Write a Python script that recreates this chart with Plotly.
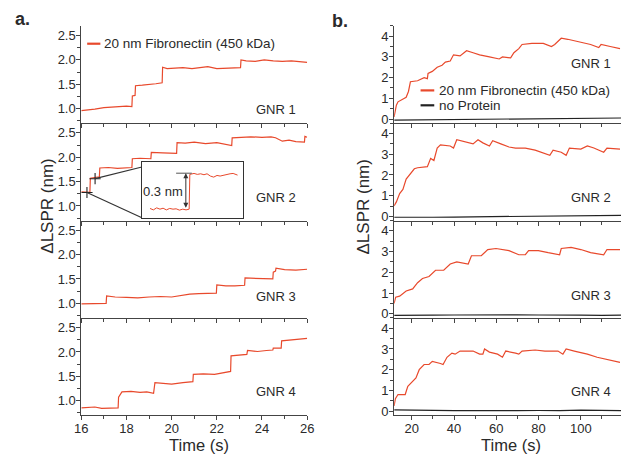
import plotly.graph_objects as go

# ---------------- data: panel a (Time s, dLSPR nm) ----------------
a_t1 = [16.0, 16.3, 16.6, 17.0, 17.3, 17.6, 18.0, 18.24, 18.26, 18.38, 18.40, 18.7, 19.0, 19.3, 19.58, 19.60,
        19.8, 20.1, 20.5, 20.9, 21.3, 21.6, 22.0, 22.4, 22.8, 23.05, 23.07, 23.3, 23.7, 24.1, 24.5, 24.9, 25.3, 25.7, 26.0]
a_v1 = [0.96, 0.97, 0.99, 1.02, 1.03, 1.04, 1.05, 1.04, 1.26, 1.27, 1.47, 1.48, 1.49, 1.51, 1.53, 1.85,
        1.82, 1.83, 1.84, 1.82, 1.84, 1.86, 1.82, 1.83, 1.84, 1.84, 2.00, 1.98, 1.97, 2.00, 1.98, 1.97, 1.98, 1.96, 1.95]

a_t2 = [16.0, 16.2, 16.38, 16.40, 16.6, 16.8, 16.82, 17.2, 17.6, 18.0, 18.24, 18.26, 18.6, 19.08, 19.10, 19.6,
        20.22, 20.24, 20.6, 21.0, 21.5, 22.0, 22.4, 22.66, 22.68, 23.0, 23.5, 24.0, 24.4, 24.6, 24.9, 25.2, 25.5,
        25.88, 25.9, 26.0]
a_v2 = [1.29, 1.29, 1.28, 1.57, 1.58, 1.60, 1.78, 1.79, 1.77, 1.78, 1.79, 1.97, 1.98, 1.97, 2.10, 2.09,
        2.08, 2.30, 2.29, 2.31, 2.28, 2.30, 2.27, 2.24, 2.40, 2.41, 2.42, 2.41, 2.42, 2.40, 2.33, 2.35, 2.32,
        2.31, 2.43, 2.41]

a_t3 = [16.0, 16.5, 17.1, 17.12, 17.5, 18.0, 18.5, 19.0, 19.5, 20.0, 20.5, 20.8, 21.2, 21.6, 21.98, 22.0,
        22.4, 22.8, 23.23, 23.25, 23.7, 24.1, 24.48, 24.5, 24.6, 24.62, 25.0, 25.5, 26.0]
a_v3 = [0.99, 1.00, 1.00, 1.15, 1.13, 1.12, 1.11, 1.13, 1.14, 1.13, 1.17, 1.19, 1.20, 1.20, 1.21, 1.38,
        1.36, 1.36, 1.37, 1.52, 1.51, 1.51, 1.50, 1.64, 1.66, 1.72, 1.69, 1.68, 1.70]

a_t4 = [16.0, 16.3, 16.6, 16.9, 17.3, 17.63, 17.65, 17.8, 18.2, 18.6, 18.9, 19.2, 19.26, 19.6, 20.0, 20.5,
        20.94, 20.96, 21.4, 21.9, 22.4, 22.61, 22.63, 23.0, 23.33, 23.36, 23.8, 24.2, 24.48, 24.5, 24.85, 24.87,
        25.3, 25.7, 26.0]
a_v4 = [0.85, 0.86, 0.87, 0.84, 0.84, 0.85, 1.07, 1.18, 1.19, 1.17, 1.18, 1.15, 1.37, 1.35, 1.34, 1.37,
        1.39, 1.54, 1.55, 1.54, 1.58, 1.60, 1.92, 1.93, 1.95, 2.03, 2.01, 2.03, 2.04, 2.08, 2.08, 2.23,
        2.25, 2.27, 2.28]

# inset (zoom of the first step in GNR 2)
inset_t = [16.238, 16.253, 16.268, 16.283, 16.297, 16.312, 16.327, 16.342, 16.356, 16.371, 16.386, 16.401, 16.415,
           16.418, 16.437, 16.452, 16.467, 16.482, 16.496, 16.511, 16.526, 16.541, 16.555, 16.570, 16.585,
           16.600, 16.614, 16.634]
inset_v = [1.276, 1.264, 1.281, 1.270, 1.278, 1.264, 1.276, 1.270, 1.273, 1.262, 1.270, 1.264, 1.270,
           1.562, 1.570, 1.562, 1.567, 1.559, 1.567, 1.548, 1.539, 1.553, 1.548, 1.556, 1.559,
           1.567, 1.570, 1.556]
zoom_marks_t = [16.25, 16.61]
zoom_marks_v = [1.276, 1.56]

# ---------------- data: panel b ----------------
b_t1 = [11.66, 12.74, 13.51, 15.83, 17.37, 18.46, 19.38, 22.78, 25.87, 27.41, 27.72, 29.73, 32.05, 34.36, 35.91,
        38.22, 39.77, 42.86, 45.95, 49.03, 52.12, 56.76, 61.39, 62.93, 66.8, 68.34, 70.66, 72.2, 76.83, 82.24,
        86.1, 87.64, 90.73, 93.82, 100.0, 104.63, 108.49, 109.58, 113.9, 118.53]
b_v1 = [0.10, 0.67, 0.83, 0.95, 1.05, 1.33, 1.80, 1.85, 2.00, 1.95, 2.20, 2.30, 2.50, 2.60, 2.75,
        2.80, 3.10, 3.05, 3.30, 3.20, 3.10, 3.00, 2.90, 3.00, 2.95, 3.20, 3.40, 3.60, 3.65, 3.65,
        3.50, 3.60, 3.90, 3.85, 3.70, 3.60, 3.45, 3.60, 3.50, 3.40]

b_t2 = [11.66, 12.74, 14.29, 15.83, 17.37, 18.92, 21.24, 22.78, 25.87, 27.41, 28.96, 30.5, 32.05, 33.59, 38.22,
        39.77, 41.31, 45.95, 49.03, 51.35, 53.67, 56.76, 58.3, 62.16, 66.02, 69.11, 73.75, 78.38, 83.78, 85.33,
        86.87, 90.73, 93.05, 94.59, 100.0, 103.09, 106.18, 110.81, 112.36, 118.53]
b_v2 = [0.51, 0.70, 1.10, 1.30, 1.80, 2.00, 2.30, 2.35, 2.40, 2.40, 2.80, 2.70, 3.30, 3.45, 3.40,
        3.30, 3.70, 3.60, 3.50, 3.70, 3.55, 3.40, 3.65, 3.50, 3.35, 3.30, 3.30, 3.20, 3.00, 2.95,
        3.20, 3.10, 2.95, 3.30, 3.25, 3.40, 3.30, 3.10, 3.30, 3.25]

b_t3 = [11.66, 12.43, 14.29, 17.37, 20.46, 22.78, 25.1, 28.19, 31.27, 35.14, 38.22, 41.31, 46.72, 48.26, 52.9,
        55.98, 59.85, 66.02, 70.66, 73.75, 75.29, 79.92, 84.56, 89.96, 90.73, 95.37, 100.0, 104.63, 110.81,
        112.36, 118.53]
b_v3 = [0.50, 0.80, 0.85, 1.10, 1.20, 1.50, 1.70, 1.80, 2.10, 2.10, 2.40, 2.50, 2.40, 2.80, 2.80,
        3.10, 3.15, 3.05, 2.85, 2.85, 3.05, 3.05, 2.95, 2.85, 3.15, 3.20, 3.10, 2.95, 2.85,
        3.10, 3.10]

b_t4 = [11.66, 12.28, 13.51, 16.91, 18.15, 20.46, 22.01, 23.55, 25.87, 28.19, 29.73, 33.59, 34.83, 36.68, 39.0,
        40.54, 42.86, 49.03, 52.12, 53.67, 54.44, 56.76, 60.62, 62.93, 64.48, 69.11, 70.66, 72.2, 78.38, 83.01,
        89.19, 91.51, 93.05, 96.91, 103.09, 107.72, 112.36, 118.53]
b_v4 = [0.25, 0.60, 0.80, 0.80, 1.20, 1.45, 1.60, 2.00, 2.25, 2.25, 2.40, 2.30, 2.25, 2.60, 2.80,
        2.75, 2.90, 2.90, 2.75, 2.75, 3.00, 2.85, 2.75, 2.60, 2.90, 2.80, 2.75, 2.90, 2.95, 2.90,
        2.90, 2.75, 3.00, 2.90, 2.75, 2.60, 2.50, 2.35]

b_t_ctrl = [11.7, 20, 30, 40, 50, 60, 70, 80, 90, 100, 110, 119]
b_c1 = [-0.05, -0.04, -0.03, -0.02, -0.02, -0.01, 0.00, 0.01, 0.02, 0.03, 0.04, 0.05]
b_c2 = [-0.04, -0.05, -0.04, -0.03, -0.02, -0.02, -0.01, -0.01, 0.00, 0.02, 0.04, 0.05]
b_c3 = [-0.08, -0.06, -0.07, -0.06, -0.05, -0.06, -0.05, -0.06, -0.05, -0.07, -0.08, -0.07]
b_c4 = [0.06, 0.04, 0.03, 0.02, 0.02, 0.01, 0.02, 0.03, 0.02, 0.05, 0.03, 0.02]

gnr_labels = ["GNR 1", "GNR 2", "GNR 3", "GNR 4"]
a_yticks = [1.0, 1.5, 2.0, 2.5]
b_yticks = [0, 1, 2, 3, 4]
red_name = "20 nm Fibronectin (450 kDa)"
ctrl_name = "no Protein"

# ---------------- layout helpers ----------------
W, H = 628, 458
def px(x):
    return x / W
def py(y):
    return 1 - y / H

RED = '#E8492C'
BLK = '#222222'
AXC = '#444444'
TXT = '#2a2a2a'
FONT = 'Liberation Sans, Arial, sans-serif'

rows = [(26, 124), (124, 222), (222, 320), (320, 418)]
fig = go.Figure()

a_data = [(a_t1, a_v1), (a_t2, a_v2), (a_t3, a_v3), (a_t4, a_v4)]
b_data = [(b_t1, b_v1), (b_t2, b_v2), (b_t3, b_v3), (b_t4, b_v4)]
b_ctrl = [b_c1, b_c2, b_c3, b_c4]

def ax(n):
    return ('x' if n == 1 else f'x{n}'), ('y' if n == 1 else f'y{n}')

for i in range(4):
    xa, ya = ax(i + 1)
    fig.add_trace(go.Scatter(x=a_data[i][0], y=a_data[i][1], xaxis=xa, yaxis=ya, mode='lines',
                             line=dict(color=RED, width=1.2), name=red_name, showlegend=False))
for i in range(4):
    xa, ya = ax(i + 5)
    fig.add_trace(go.Scatter(x=b_t_ctrl, y=b_ctrl[i], xaxis=xa, yaxis=ya, mode='lines',
                             line=dict(color=BLK, width=1.2), name=ctrl_name, showlegend=False))
    fig.add_trace(go.Scatter(x=b_data[i][0], y=b_data[i][1], xaxis=xa, yaxis=ya, mode='lines',
                             line=dict(color=RED, width=1.2), name=red_name, showlegend=False))

# inset
fig.add_trace(go.Scatter(x=inset_t, y=inset_v, xaxis='x9', yaxis='y9', mode='lines',
                         line=dict(color=RED, width=1.0), showlegend=False))
fig.add_trace(go.Scatter(x=zoom_marks_t, y=zoom_marks_v, xaxis='x2', yaxis='y2', mode='markers',
                         marker=dict(symbol='cross-thin', size=8, line=dict(color=BLK, width=1.1)),
                         showlegend=False))

common = dict(showgrid=False, zeroline=False, showline=True, linecolor=AXC, linewidth=1,
              ticks='outside', ticklen=4, tickcolor=AXC, tickwidth=1,
              tickfont=dict(family=FONT, size=13, color=TXT))

layout = {}
for i in range(4):
    top, bot = rows[i]
    n = i + 1
    kx = 'xaxis' if n == 1 else f'xaxis{n}'
    ky = 'yaxis' if n == 1 else f'yaxis{n}'
    layout[kx] = dict(common, domain=[px(76), px(307)], anchor=ax(n)[1], range=[16, 26], dtick=2, tick0=0,
                      showticklabels=(n == 4), ticklabelstandoff=-3,
                      minor=dict(ticks='outside', ticklen=3, dtick=1, tick0=0, tickcolor=AXC))
    layout[ky] = dict(common, domain=[py(bot), py(top)], anchor=ax(n)[0], range=[0.7, 2.7],
                      tickvals=a_yticks, tickformat='.1f', ticklabelstandoff=-2,
                      minor=dict(ticks='outside', ticklen=3, dtick=0.25, tick0=0, tickcolor=AXC))
    m = i + 5
    layout[f'xaxis{m}'] = dict(common, domain=[px(396), 1.0], anchor=f'y{m}', range=[11.7, 119.0],
                               dtick=20, tick0=0, showticklabels=(m == 8), ticklabelstandoff=-3,
                               minor=dict(ticks='outside', ticklen=3, dtick=10, tick0=0, tickcolor=AXC))
    layout[f'yaxis{m}'] = dict(common, domain=[py(bot), py(top)], anchor=f'x{m}', range=[-0.2, 4.5],
                               tickvals=b_yticks, ticklabelstandoff=-2,
                               minor=dict(ticks='outside', ticklen=3, dtick=0.5, tick0=0, tickcolor=AXC))

layout['xaxis9'] = dict(domain=[px(137.7), px(241.7)], anchor='y9', range=[16.20, 16.66], showgrid=False,
                        zeroline=False, showline=True, mirror=True, linecolor='#333', linewidth=1.3,
                        ticks='', showticklabels=False)
layout['yaxis9'] = dict(domain=[py(219.3), py(163.3)], anchor='x9', range=[1.197, 1.664], showgrid=False,
                        zeroline=False, showline=True, mirror=True, linecolor='#333', linewidth=1.3,
                        ticks='', showticklabels=False)

annotations = []
shapes = []

def txt(x, y, s, size=13, **kw):
    d = dict(x=px(x), y=py(y), xref='paper', yref='paper', text=s, showarrow=False,
             font=dict(family=FONT, size=size, color=TXT), xanchor='center', yanchor='middle')
    d.update(kw)
    annotations.append(d)

# panel letters
txt(16, 19, '<b>a.</b>', size=18)
txt(341, 21, '<b>b.</b>', size=18)
# axis titles
txt(42, 208, 'ΔLSPR (nm)', size=17, textangle=-90)
txt(365, 208, 'ΔLSPR (nm)', size=17, textangle=-90)
txt(196, 458, 'Time (s)', size=16.5, yanchor='bottom', borderpad=0)
txt(516, 458, 'Time (s)', size=16.5, yanchor='bottom', borderpad=0)
# GNR labels
for lab, yy in zip(gnr_labels, [110, 199, 298, 394]):
    txt(275, yy, lab, size=13)
for lab, yy in zip(gnr_labels, [64, 199, 297, 394]):
    txt(597, yy, lab, size=13)
# legends
shapes.append(dict(type='line', xref='paper', yref='paper', x0=px(82), x1=px(95.5), y0=py(44), y1=py(44),
                   line=dict(color=RED, width=2.2)))
txt(97.5, 44, red_name, size=13.5, xanchor='left')
shapes.append(dict(type='line', xref='paper', yref='paper', x0=px(423), x1=px(437), y0=py(91), y1=py(91),
                   line=dict(color=RED, width=2.2)))
txt(440, 91, red_name, size=13.5, xanchor='left')
shapes.append(dict(type='line', xref='paper', yref='paper', x0=px(423), x1=px(437), y0=py(106), y1=py(106),
                   line=dict(color=BLK, width=2.2)))
txt(440, 106, ctrl_name, size=13.5, xanchor='left')

# inset connectors (subplot 2 data coords)
shapes.append(dict(type='line', xref='x2', yref='y2', x0=zoom_marks_t[0], y0=zoom_marks_v[0], x1=18.683, y1=0.759,
                   line=dict(color='#333', width=1.2)))
shapes.append(dict(type='line', xref='x2', yref='y2', x0=zoom_marks_t[1], y0=zoom_marks_v[1], x1=18.683, y1=1.80,
                   line=dict(color='#333', width=1.2)))
# 0.3 nm dimension inside inset
shapes.append(dict(type='line', xref='x9', yref='y9', x0=16.356, x1=16.427, y0=1.572, y1=1.572,
                   line=dict(color='#555', width=1)))
annotations.append(dict(x=16.40, y=1.572, ax=16.40, ay=1.27, xref='x9', yref='y9', axref='x9', ayref='y9',
                        text='', showarrow=True, arrowhead=2, arrowside='end+start', arrowsize=1,
                        arrowwidth=1, arrowcolor='#333'))
annotations.append(dict(x=16.297, y=1.418, xref='x9', yref='y9', text='0.3 nm', showarrow=False,
                        font=dict(family=FONT, size=13, color=TXT)))

fig.update_layout(width=W, height=H, margin=dict(l=0, r=0, t=0, b=0), paper_bgcolor='white',
                  plot_bgcolor='white', showlegend=False, annotations=annotations, shapes=shapes, **layout)

fig.write_html("out.html", config={'displayModeBar': False},
               post_script="document.body.style.margin='0';document.body.style.padding='0';"
                           "document.body.style.overflow='hidden';")
